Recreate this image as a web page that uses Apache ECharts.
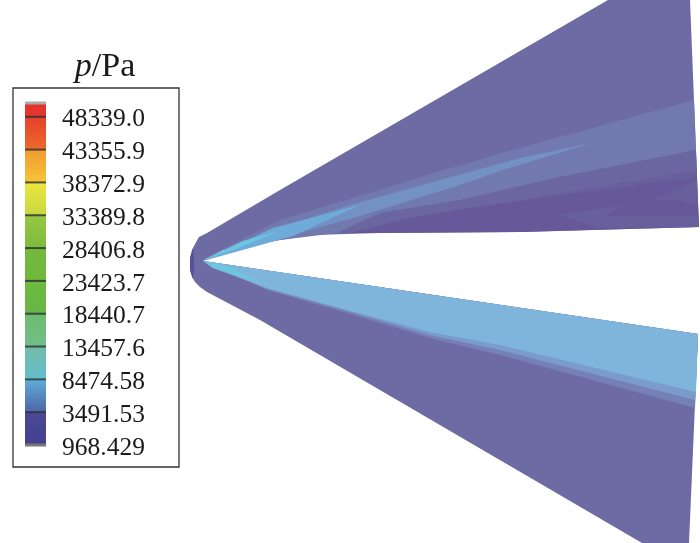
<!DOCTYPE html>
<html>
<head>
<meta charset="utf-8">
<script src="https://cdn.jsdelivr.net/npm/echarts@6/dist/echarts.min.js"></script>
<style>
html, body { margin: 0; padding: 0; background: #fff; }
#main { width: 700px; height: 543px; filter: blur(0.5px); }
</style>
</head>
<body>
<div id="main"></div>
<script>
// legend values, bottom to top
var legendLabels = ['968.429', '3491.53', '8474.58', '13457.6', '18440.7', '23423.7', '28406.8', '33389.8', '38372.9', '43355.9', '48339.0'];
var legendBandEdges = [0, 1, 2, 3, 4, 5, 6, 7, 8, 9, 10, 10.42];

// contour regions, x/y measured from the nose tip
var wholeBody = [[405, 261], [487, 261], [496, 34], [317, 29], [177, 28], [110, 26], [77, 21], [60, 18], [20, 11], [0, 0], [495, -73], [486, -282], [439, -282], [57, -59], [4, -31], [-3, -26], [-8, -21], [-11, -16], [-13, -9], [-13, 3], [-11, 11], [-8, 17], [-4, 24], [4, 28], [77, 71]];
var noseRim = [[-10, 13], [-13, 3], [-13, -9], [-10, -18], [-9, -9], [-9, 6]];
var upperMid = [[2, 3], [77, 41], [150, 63], [224, 86], [317, 113], [491, 161], [493, 111], [357, 84], [257, 61], [177, 48], [134, 28], [77, 21], [20, 11], [0, 0]];
var upperInner = [[134, 28], [177, 48], [257, 61], [357, 84], [493, 111], [494, 91], [300, 58], [210, 44], [147, 28]];
var upperStep = [[300, 58], [494, 91], [494, 84]];
var upperDark = [[147, 28], [210, 44], [300, 58], [494, 84], [496, 34], [317, 29], [177, 28]];
var darkPatchA = [[355, 46], [422, 56], [402, 45], [494, 45], [496, 34], [397, 33]];
var darkPatchB = [[450, 61], [494, 81], [494, 56], [477, 61]];
var streakOuter = [[1, 1], [64, 30], [154, 58], [317, 103], [389, 118], [300, 91], [257, 76], [154, 44], [60, 18]];
var streakBlue = [[0, 0], [70, 33], [157, 56], [90, 25]];
var streakCyan = [[0, 1], [40, 20], [77, 30], [30, 11]];
var lowerEdgeC = [[0, 0], [64, -29], [137, -50], [227, -77], [297, -94], [492, -147], [495, -73]];
var lowerEdgeB = [[0, 0], [64, -28], [137, -48], [227, -74], [297, -89], [492, -139], [495, -73]];
var lowerBand = [[0, 0], [495, -73], [493, -131], [297, -84], [227, -71], [137, -47], [64, -27], [10, -7]];
var lowerCyan = [[0, 0], [27, -6], [59, -22], [10, -7]];

var bandColors = [
    ['#43408f', '#4b4a96'], ['#4e65a8', '#5fadd9'], ['#63bdcd', '#73bda8'], ['#72bd8b', '#6dbc6c'],
    ['#68b648', '#6cba3e'], ['#70b83c', '#72b93c'], ['#7dbb3d', '#98c741'], ['#c5d942', '#ede63f'],
    ['#f6c53a', '#f09a30'], ['#ec6a2b', '#e5402c'], ['#e5362c', '#e5332c']
];

function contourSeries(points, color) {
    return {
        type: 'custom',
        coordinateSystem: 'cartesian2d',
        xAxisIndex: 0,
        yAxisIndex: 0,
        silent: true,
        data: points,
        renderItem: function (params, api) {
            if (params.dataIndex !== 0) return;
            return {
                type: 'polygon',
                shape: { points: points.map(function (p) { return api.coord(p); }) },
                style: { fill: color }
            };
        }
    };
}

var contourSeriesList = [
    contourSeries(wholeBody, '#6e6ba4'),
    contourSeries(noseRim, '#55529a'),
    contourSeries(upperMid, '#7279ae'),
    contourSeries(upperInner, '#6c66a0'),
    contourSeries(upperStep, '#6a5f9d'),
    contourSeries(upperDark, '#675899'),
    contourSeries(darkPatchA, '#6a5f9d'),
    contourSeries(darkPatchB, '#6a5f9d'),
    contourSeries(streakOuter, '#7391c3'),
    contourSeries(streakBlue, '#6eabd9'),
    contourSeries(streakCyan, '#6cc6de'),
    contourSeries(lowerEdgeC, '#7581b5'),
    contourSeries(lowerEdgeB, '#7b9cca'),
    contourSeries(lowerBand, '#7fb5db'),
    contourSeries(lowerCyan, '#6cc6de')
];

var legendSeries = {
    type: 'custom',
    coordinateSystem: 'cartesian2d',
    xAxisIndex: 1,
    yAxisIndex: 1,
    silent: true,
    data: bandColors.map(function (c, i) { return [0, legendBandEdges[i], legendBandEdges[i + 1]]; }),
    renderItem: function (params, api) {
        var i = params.dataIndex;
        var lo = api.coord([0, api.value(1)]);
        var hi = api.coord([1, api.value(2)]);
        var children = [{
            type: 'rect',
            shape: { x: lo[0], y: hi[1], width: hi[0] - lo[0], height: lo[1] - hi[1] },
            style: {
                fill: {
                    type: 'linear', x: 0, y: 1, x2: 0, y2: 0,
                    colorStops: [{ offset: 0, color: bandColors[i][0] }, { offset: 1, color: bandColors[i][1] }]
                }
            }
        }, {
            type: 'line',
            shape: { x1: lo[0], y1: lo[1], x2: hi[0], y2: lo[1] },
            style: { stroke: i === 0 ? '#777' : 'rgba(40,45,50,0.8)', lineWidth: i === 0 ? 3 : 2 }
        }];
        if (i === bandColors.length - 1) {
            children.push({
                type: 'line',
                shape: { x1: lo[0], y1: hi[1], x2: hi[0], y2: hi[1] },
                style: { stroke: '#aaa', lineWidth: 3 }
            });
        }
        return { type: 'group', children: children };
    }
};

var chart = echarts.init(document.getElementById('main'));
chart.setOption({
    animation: false,
    backgroundColor: '#fff',
    title: {
        text: '{i|p}{n|/Pa}',
        left: 100,
        top: 45,
        textAlign: 'center',
        textStyle: {
            fontWeight: 'normal',
            rich: {
                i: { fontFamily: 'Liberation Serif', fontStyle: 'italic', fontWeight: 'normal', fontSize: 34, color: '#1a1a1a' },
                n: { fontFamily: 'Liberation Serif', fontWeight: 'normal', fontSize: 34, color: '#1a1a1a' }
            }
        }
    },
    graphic: [{
        type: 'rect',
        silent: true,
        shape: { x: 13, y: 88, width: 166, height: 379 },
        style: { fill: 'none', stroke: '#333', lineWidth: 1.3 }
    }],
    grid: [
        { left: 0, right: 0, top: 0, bottom: 0 },
        { left: 25, width: 21, top: 103, height: 342 }
    ],
    xAxis: [
        { type: 'value', gridIndex: 0, min: -203, max: 497, show: false },
        { type: 'value', gridIndex: 1, min: 0, max: 1, show: false }
    ],
    yAxis: [
        { type: 'value', gridIndex: 0, min: -282, max: 261, show: false },
        {
            type: 'value',
            gridIndex: 1,
            position: 'right',
            min: 0,
            max: 10.42,
            interval: 1,
            splitLine: { show: false },
            axisLine: { show: false },
            axisTick: { show: false },
            axisLabel: {
                margin: 16,
                showMaxLabel: false,
                fontFamily: 'Liberation Serif',
                fontSize: 25.5,
                color: '#1a1a1a',
                align: 'left',
                verticalAlign: 'top',
                lineHeight: 6,
                formatter: function (v) { return legendLabels[v] || ''; }
            }
        }
    ],
    series: contourSeriesList.concat([legendSeries])
});
</script>
</body>
</html>
